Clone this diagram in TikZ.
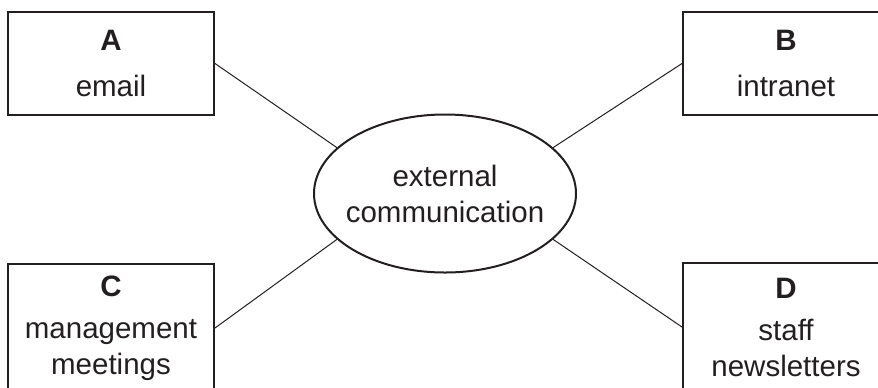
\documentclass[tikz,border=0pt]{standalone}
\usepackage{fontspec}
\setmainfont{Liberation Sans}
\usetikzlibrary{shapes.geometric}
\definecolor{ink}{RGB}{35,31,32}

\def\boxw{103pt}

\begin{document}
\begin{tikzpicture}[x=0.5pt,y=-0.5pt,font=\fontsize{14.75}{18}\selectfont]
    \tikzstyle{item}=[rectangle,draw=ink,text=ink,line width=1pt,minimum width=\boxw,inner sep=0pt,align=center]
    \tikzstyle{hub}=[ellipse,draw=ink,text=ink,line width=1pt,inner ysep=0pt,inner xsep=-6pt,align=center]
    \tikzstyle{link}=[draw=ink,line width=0.5pt]

    % the page ends where the lower boxes are cut off
    \clip (0,0) rectangle (878,387);

    % Draw the hub in the middle
    \node[hub, minimum width=131pt, minimum height=79pt] (E) at (445,193.5) {external\\communication};

    % Draw the four boxes round the hub
    \foreach \name / \x / \y / \h / \gap / \txt in {A/111/63.5/51.5/5/email, B/786/63.5/51.5/5/intranet,
        C/111/328/64/3/{management\\meetings}, D/786/327/64/3/{staff\\newsletters}}
        \node[item, minimum height=\h pt] (\name) at (\x,\y) {\textbf{\name}\\[\gap pt]\txt};

    % Connect every box with the hub
    \foreach \name / \side / \ang in {A/east/157, B/west/23, C/east/203, D/west/337}
        \draw[link] (\name.\side) -- (E.\ang);
\end{tikzpicture}
\end{document}
